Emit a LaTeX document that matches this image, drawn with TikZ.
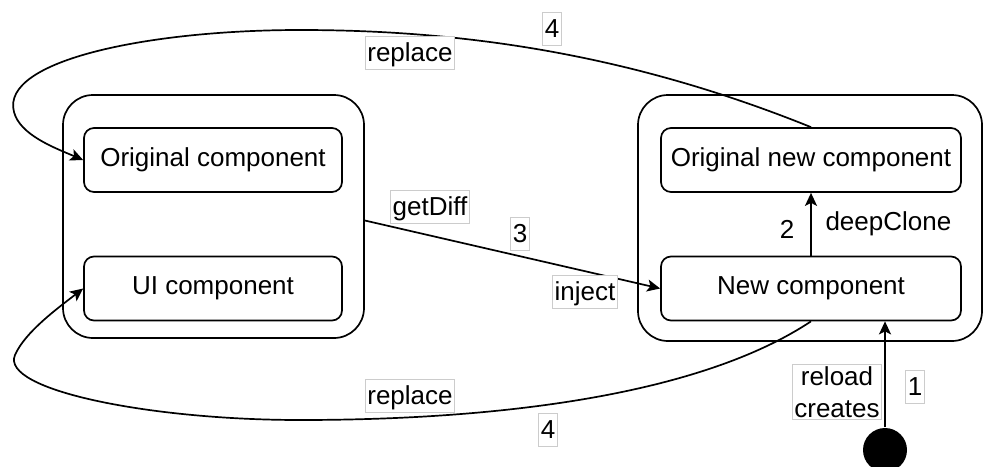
\documentclass[tikz,border=0pt]{standalone}
\usepackage{fontspec}
\setmainfont{Liberation Sans}
\usepackage{tikz}
\usetikzlibrary{arrows.meta}

\begin{document}
\begin{tikzpicture}[x=0.5pt, y=-0.5pt,
    font=\fontsize{13}{16}\selectfont,
    line width=0.85pt,
    >={Stealth[length=6.5pt, width=6pt, inset=1.5pt]},
    groupbox/.style={draw, rounded corners=15pt},
    compbox/.style={draw, rounded corners=5pt, minimum height=32pt, inner sep=0pt},
    lbl/.style={draw=gray!40, line width=0.5pt, fill=white, inner sep=1pt, text height=11.5pt, text depth=3pt}]
    \useasboundingbox (0, 0) rectangle (984, 466);

    % the two groups
    \node (leftgroup) [groupbox, minimum width=150.5pt, minimum height=121.5pt] at (213.5, 216.5) {};
    \node (rightgroup) [groupbox, minimum width=172pt, minimum height=123pt] at (810, 218) {};

    \node (orig) [compbox, minimum width=129pt] at (213, 160) {Original component};
    \node (ui) [compbox, minimum width=129pt] at (213, 288.5) {UI component};
    \node (orignew) [compbox, minimum width=150pt] at (811, 160) {Original new component};
    \node (newc) [compbox, minimum width=150pt] at (811, 288.5) {New component};

    \node (start) [circle, fill=black, minimum size=22pt, inner sep=0pt] at (885, 450) {};

    % 1: reload
    \draw [->] (start) -- (start |- newc.south);
    \node (reload) [draw=gray!40, line width=0.5pt, fill=white, inner sep=1pt, align=center] at (837, 392) {reload\\creates};
    \node (one) [lbl] at (915, 387) {1};

    % 2: deepClone
    \draw [->] (newc) -- (orignew);
    \node (two) at (787, 229) {2};
    \node (deepclone) [anchor=west] at (818, 224) {deepClone};

    % 3: getDiff / inject
    \draw [->] ([yshift=-2pt]leftgroup.east) -- (newc.west);
    \node (getdiff) [lbl] at (430, 207) {getDiff};
    \node (three) [lbl] at (520, 234) {3};
    \node (inject) [lbl] at (585, 292) {inject};

    % 4: replace, top and bottom
    \draw [->] (orignew.north) .. controls (620, 50) and (450, 30) .. (300, 30)
        .. controls (150, 30) and (0, 60) .. (14, 112)
        .. controls (20, 135) and (55, 148) .. (orig.west);
    \node (replacetop) [lbl] at (410, 53) {replace};
    \node (fourtop) [lbl] at (552, 29) {4};

    \draw [->] (newc.south) .. controls (700, 395) and (500, 420) .. (300, 420)
        .. controls (150, 420) and (0, 390) .. (15, 355)
        .. controls (25, 332) and (58, 308) .. (ui.west);
    \node (replacebot) [lbl] at (410, 396) {replace};
    \node (fourbot) [lbl] at (548, 430) {4};
\end{tikzpicture}
\end{document}
